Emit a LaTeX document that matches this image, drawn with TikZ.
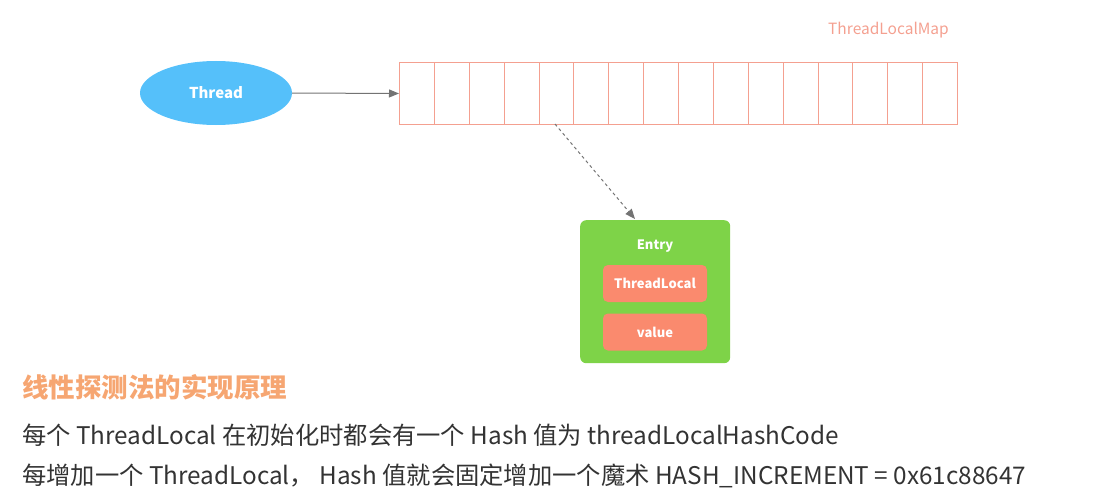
\documentclass[tikz,border=0pt]{standalone}
\usepackage{fontspec}
\setmainfont{Noto Sans CJK SC}
\usetikzlibrary{arrows.meta,shapes.geometric}
\definecolor{cellc}{HTML}{F4A090}
\definecolor{thr}{HTML}{55C0FA}
\definecolor{ent}{HTML}{7ED348}
\definecolor{sub}{HTML}{FA8A6E}
\definecolor{ttl}{HTML}{F6A672}
\definecolor{txt}{HTML}{333333}
\begin{document}
\begin{tikzpicture}[x=1pt,y=-1pt,
 cell/.style={draw=cellc,line width=1pt,minimum width=34.9pt,minimum height=62pt,inner sep=0,anchor=north west},
 sub/.style={fill=sub,rounded corners=5pt,minimum width=104pt,minimum height=37pt,text=white,font=\fontsize{13}{15}\selectfont\bfseries},
 arr/.style={-{Triangle[length=10pt,width=8pt]},draw=gray!90!black,line width=1pt}]
\useasboundingbox (0,0) rectangle (1106,503);
\node[ellipse,fill=thr,minimum width=152pt,minimum height=64pt,text=white,font=\fontsize{15}{17}\selectfont\bfseries] (thread) at (216,93) {Thread};
\foreach \i in {0,...,15}{\node[cell] (c\i) at ({399+\i*34.875},62) {};}
\node[text=cellc,font=\fontsize{15.5}{17}\selectfont,anchor=east,inner sep=0] (tlm) at (949,30) {ThreadLocalMap};
\draw[arr] (thread.east) -- (c0.west);
\node[fill=ent,rounded corners=6pt,minimum width=150pt,minimum height=143pt,anchor=north west] (entry) at (580,220) {};
\node[text=white,font=\fontsize{13}{15}\selectfont\bfseries] (el) at (655,246) {Entry};
\node[sub] (tl) at (655,283.5) {ThreadLocal};
\node[sub] (val) at (655,332) {value};
\coordinate (ds) at (555,124);
\draw[arr,dashed] (ds) -- (635,219);
\node[anchor=west,text=ttl,font=\fontsize{26.5}{29}\selectfont\bfseries,inner sep=0] (h) at (22,387) {线性探测法的实现原理};
\node[anchor=west,text=txt,font=\fontsize{24.3}{27}\selectfont,inner sep=0] (l1) at (22,435) {每个 ThreadLocal 在初始化时都会有一个 Hash 值为 threadLocalHashCode};
\node[anchor=west,text=txt,font=\fontsize{24.3}{27}\selectfont,inner sep=0] (l2) at (22,476) {每增加一个 ThreadLocal， Hash 值就会固定增加一个魔术 HASH\_INCREMENT = 0x61c88647};
\end{tikzpicture}
\end{document}
